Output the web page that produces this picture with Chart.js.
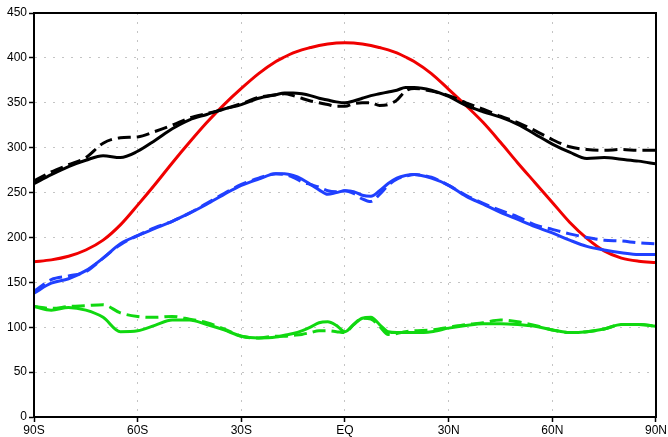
<!DOCTYPE html>
<html>
<head>
<meta charset="utf-8">
<script src="https://cdn.jsdelivr.net/npm/chart.js@4.4.1/dist/chart.umd.min.js"></script>
<style>
html,body{margin:0;padding:0;background:#fff;}
#wrap{width:668px;height:437px;position:relative;}
</style>
</head>
<body>
<div id="wrap"><canvas id="c" width="668" height="437"></canvas></div>
<script>
const lats = [-90,-85,-80,-75,-70,-65,-60,-55,-50,-45,-40,-35,-30,-25,-20,-17.5,-15,-12.5,-10,-7.5,-5,-2.5,0,2.5,5,7.5,10,12.5,15,17.5,20,25,30,35,40,45,50,55,60,65,70,75,80,85,90];
const redSolid = [173,175,179,186,197,214,236,259,283,306,328,348,366,382.5,396,401,405.5,409,411.5,413.8,415.5,416.6,417,416.6,415.5,413.8,411.5,409,405.5,401,396,382.5,365,347,328,306,283,261,239,217,199,185,177,173.5,172];
const blackSolid = [260,270,279,286,291,289,296,308,321,331,337,343,348,355,359,361,361,360,358,355,353,351,350,352,355,358,360,362,364,367,367,364,357,347,340,334,326,315,304,295,288,289,287,285,282];
const blackDashed = [263,273,281,289,305,311,312,318,325,333,338,343,349,356,359,360,358,355,352,350,348,346,346,349,350,350,347,348,353,363,366,363,358,350,343,335,328,319,309,301,298,297,298,297,297];
const blueSolid = [138,149,154,163,177,193,202,210,218,227,237,248,258,265,271,271,269,265,259,253,248,250,252,251,247,246,252,260,266,269,270,266,258,246,237,228,220,212,205,197,190,186,183,181,181];
const blueDashed = [140,153,157,162,177,192,202,211,218,227,238,249,259,266,271,270,267,262,259,256,252,251,252,249,243,240,248,258,265,268,270,267,258,247,238,230,223,214,209,204,200,197,196,194,193];
const greenSolid = [123,119,122,119,111,95,96,102,108,108,103,97,90,88,89,91,93,96,100,105,106,102,95,103,110,111,103,95,94,94,94,95,99,102,104,104,103,101,97,94,95,98,103,103,101];
const greenDashed = [123,121,123,124,125,116,112,111,112,109,105,98,90,88,90,90,91,92,94,96,96,95,94,103,110,109,101,92,93,95,96,97,100,103,105,108,106,102,97,94,95,98,103,103,101];
const xTickValues = [-90,-60,-30,0,30,60,90];
const xTickLabels = ['90S','60S','30S','EQ','30N','60N','90N'];
const yTickValues = [0,50,100,150,200,250,300,350,400,450];

function pts(arr){ return arr.map((v,i)=>({x:lats[i],y:v})); }

const RED='#f00000', BLUE='#2040ff', GREEN='#10d810', BLACK='#000000';
const DASH=[13,6];

function ds(arr,color,dashed){
  return {data:pts(arr),borderColor:color,backgroundColor:color,borderWidth:3,
    borderDash:dashed?DASH:[],pointRadius:0,cubicInterpolationMode:'monotone',fill:false};
}

const frame = {
  id:'frame',
  afterDraw(chart){
    const a=chart.chartArea, ctx=chart.ctx;
    ctx.save();
    ctx.strokeStyle='#000';ctx.lineWidth=2;ctx.setLineDash([]);
    ctx.strokeRect(a.left,a.top,a.right-a.left,a.bottom-a.top);
    ctx.restore();
  }
};

const gridOpts = {color:'#c4c4c4',tickColor:'#000',tickBorderDash:[],tickLength:5,lineWidth:1,tickWidth:1.5};
const borderOpts = {display:true,color:'#000',width:2,dash:[2,7]};

new Chart(document.getElementById('c'),{
  type:'line',
  data:{datasets:[
    ds(greenDashed,GREEN,true),
    ds(greenSolid,GREEN,false),
    ds(blueDashed,BLUE,true),
    ds(blueSolid,BLUE,false),
    ds(blackDashed,BLACK,true),
    ds(blackSolid,BLACK,false),
    ds(redSolid,RED,false)
  ]},
  options:{
    responsive:false,animation:false,
    layout:{padding:{top:13,right:12,left:0,bottom:0}},
    plugins:{legend:{display:false},tooltip:{enabled:false}},
    scales:{
      x:{type:'linear',min:-90,max:90,
        afterBuildTicks(s){ s.ticks = xTickValues.map(v=>({value:v})); },
        afterFit(s){ s.height=20; },
        ticks:{autoSkip:false,maxRotation:0,padding:1,color:'#000',
          font:{family:'Liberation Sans, Arial, sans-serif',size:12},
          callback:(v)=>{const i=xTickValues.indexOf(v);return i>=0?xTickLabels[i]:'';}},
        grid:gridOpts,
        border:borderOpts
      },
      y:{min:0,max:450,
        afterBuildTicks(s){ s.ticks = yTickValues.map(v=>({value:v})); },
        afterFit(s){ s.width=34; },
        ticks:{padding:2,color:'#000',
          font:{family:'Liberation Sans, Arial, sans-serif',size:12}},
        grid:gridOpts,
        border:borderOpts
      }
    }
  },
  plugins:[frame]
});
</script>
</body>
</html>
